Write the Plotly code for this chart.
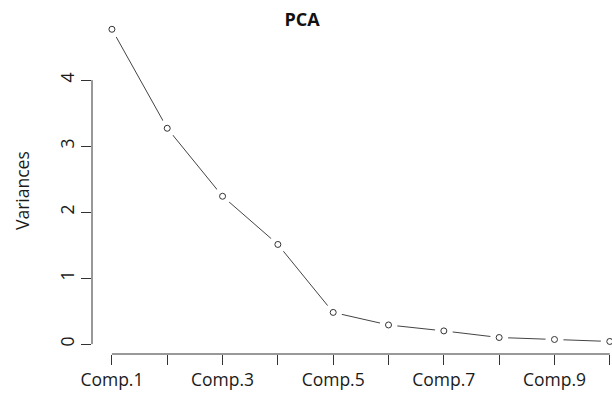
import plotly.graph_objects as go

components = ["Comp.1", "Comp.2", "Comp.3", "Comp.4", "Comp.5",
              "Comp.6", "Comp.7", "Comp.8", "Comp.9", "Comp.10"]
variances = [4.77, 3.27, 2.24, 1.51, 0.48, 0.29, 0.20, 0.10, 0.07, 0.04]
shown_labels = ["Comp.1", "", "Comp.3", "", "Comp.5", "", "Comp.7", "", "Comp.9", ""]
y_ticks = [0, 1, 2, 3, 4]

xpos = list(range(1, len(components) + 1))
FONT = "Open Sans"
INK = "#333333"
TXT = "#1a1a1a"

fig = go.Figure()
fig.add_trace(go.Scatter(x=xpos, y=variances, mode="lines",
                         line=dict(color="#444444", width=1),
                         hoverinfo="skip"))
fig.add_trace(go.Scatter(x=xpos, y=variances, mode="markers",
                         marker=dict(size=18, color="white", opacity=1,
                                     line=dict(width=0, color="white")),
                         hoverinfo="skip"))
fig.add_trace(go.Scatter(x=xpos, y=variances, mode="markers",
                         marker=dict(size=6, color="white", symbol="circle",
                                     line=dict(color="#333333", width=1)),
                         cliponaxis=False, text=components))

fig.add_shape(type="line", xref="paper", yref="y", x0=0, x1=0,
              y0=min(y_ticks), y1=max(y_ticks), line=dict(color=INK, width=1))
fig.add_shape(type="line", xref="x", yref="paper", x0=xpos[0], x1=xpos[-1],
              y0=0, y1=0, line=dict(color=INK, width=1))

fig.update_layout(
    width=612, height=394,
    margin=dict(l=92, r=0, t=17, b=40),
    paper_bgcolor="white", plot_bgcolor="white",
    showlegend=False,
    font=dict(family=FONT, color=TXT),
    title=dict(text="<b>PCA</b>", x=302 / 612, xref="container", xanchor="center",
               y=1 - 20 / 394, yref="container", yanchor="middle",
               font=dict(size=18, family=FONT, color="#111111")),
    xaxis=dict(range=[0.64, 10.04], tickvals=xpos, ticktext=shown_labels,
               showgrid=False, zeroline=False, showline=False,
               ticks="outside", ticklen=10, tickcolor=INK, tickwidth=1,
               tickfont=dict(size=17.5, family=FONT, color=TXT)),
    yaxis=dict(range=[-0.15, 4.956], tickvals=y_ticks, ticktext=[str(v) for v in y_ticks],
               tickangle=-90,
               showgrid=False, zeroline=False, showline=False,
               ticks="outside", ticklen=10, tickcolor=INK, tickwidth=1,
               tickfont=dict(size=17.5, family=FONT, color=TXT)),
)
fig.add_annotation(text="Variances", xref="paper", yref="paper",
                   x=(22 - 92) / 520, y=(394 - 40 - 191) / 337,
                   textangle=-90, showarrow=False, xanchor="center", yanchor="middle",
                   font=dict(size=17.5, family=FONT, color=TXT))

fig.write_html("out.html", config={"displayModeBar": False},
               post_script="document.body.style.margin='0';document.body.style.padding='0';")
